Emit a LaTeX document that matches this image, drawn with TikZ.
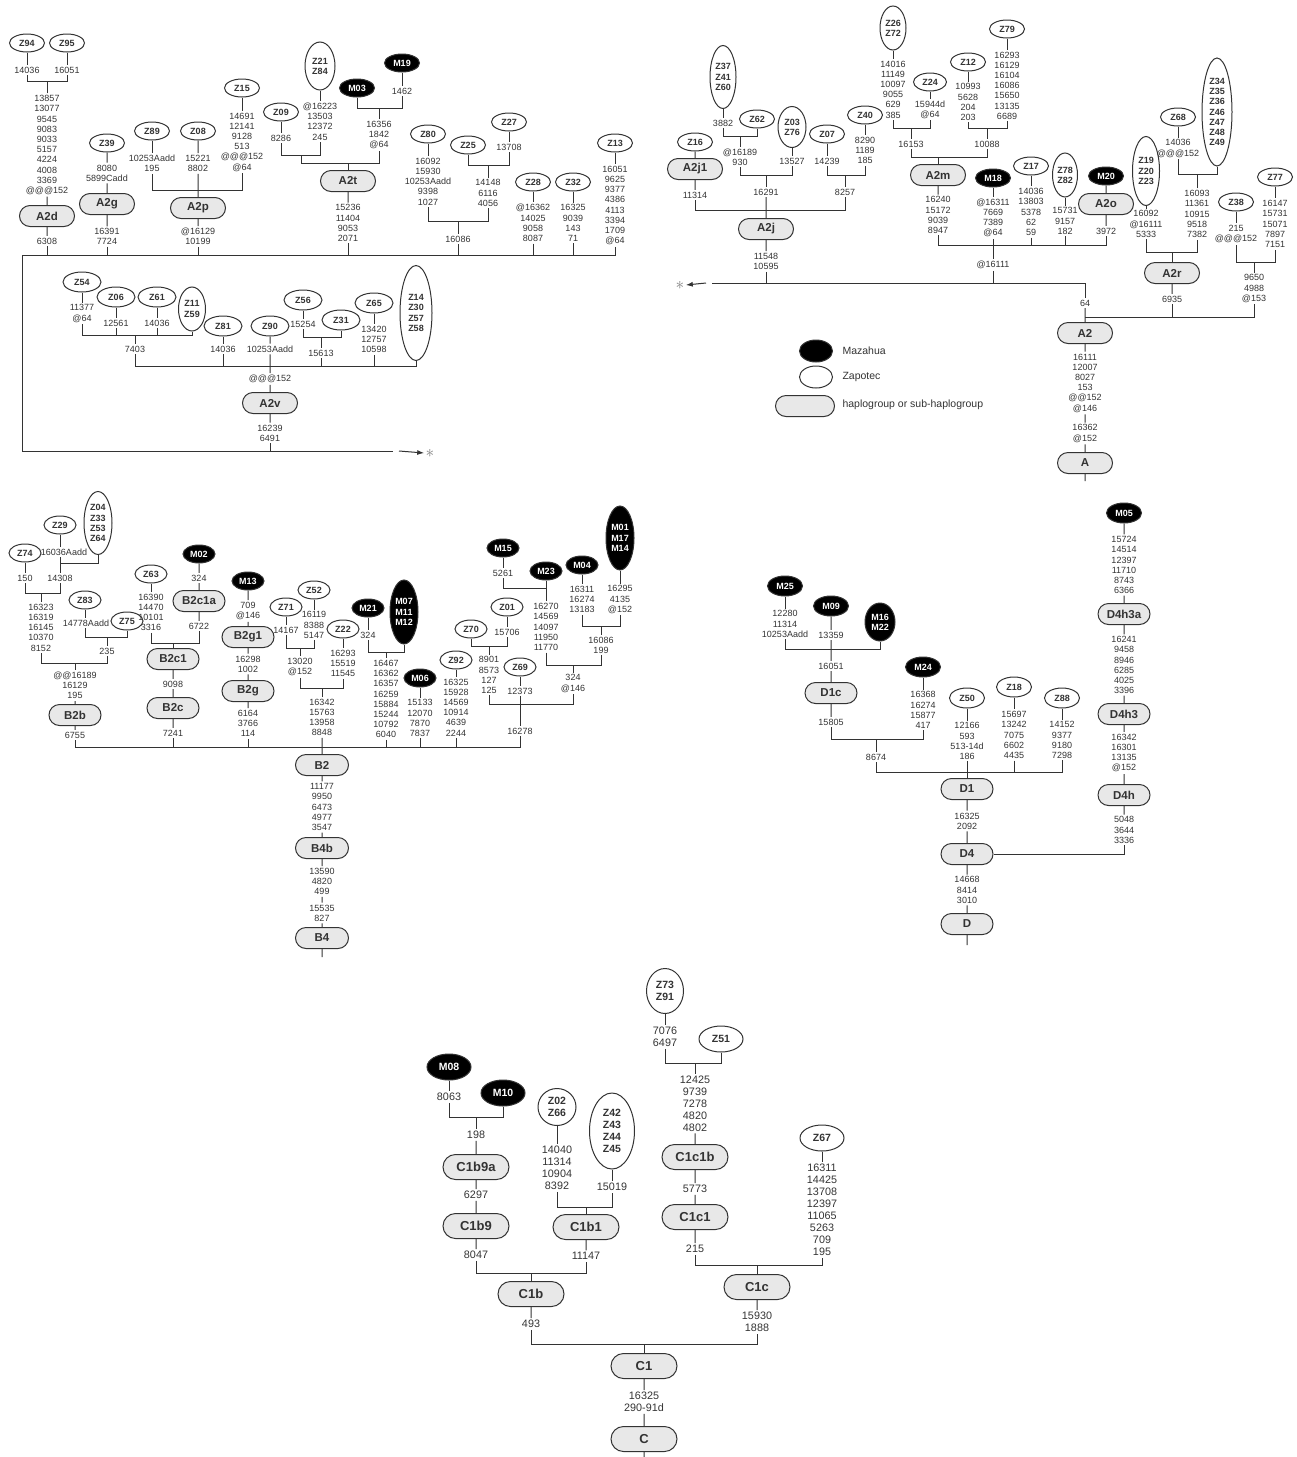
\documentclass[tikz,border=0pt]{standalone}
\usepackage{fontspec}
\setmainfont{Liberation Sans}
\usepackage{tikz}
\usetikzlibrary{shapes.geometric,shapes.misc,arrows.meta}

\begin{document}
\begin{tikzpicture}[x=1pt,y=-1pt,line width=1pt,color=black!80,>={Latex[length=7pt,width=5pt]}]
% ---- styles ----
\tikzstyle{zap}=[ellipse,draw,fill=white,inner sep=0pt,align=center,
  minimum width=35pt,minimum height=18pt,font=\fontsize{9}{10.2}\selectfont\bfseries]
\tikzstyle{maz}=[zap,fill=black,text=white]
\tikzstyle{hap}=[rounded rectangle,draw,fill=gray!18,inner sep=0pt,
  minimum width=55pt,minimum height=21pt,font=\fontsize{11.5}{12}\selectfont\bfseries]
\tikzstyle{mut}=[align=center,inner sep=1.5pt,font=\fontsize{9}{10.2}\selectfont]
\tikzstyle{zapc}=[zap,minimum width=44pt,minimum height=26pt,font=\fontsize{10.5}{12}\selectfont\bfseries]
\tikzstyle{mazc}=[zapc,fill=black,text=white]
\tikzstyle{hapc}=[hap,minimum width=66pt,minimum height=25pt,font=\fontsize{13}{14}\selectfont\bfseries]
\tikzstyle{mutc}=[mut,font=\fontsize{10.8}{12}\selectfont]
\tikzstyle{legtext}=[anchor=west,inner sep=0pt,font=\fontsize{10.5}{12}\selectfont]
\tikzstyle{starmark}=[black!50,inner sep=1pt,font=\fontsize{16}{16}\selectfont]

\useasboundingbox (0,0) rectangle (1297,1457);

% ---- A2, left part ----
\node[zap] (z94) at (27,43) {Z94};
\node[zap] (z95) at (67,43) {Z95};
\node[mut] (l94) at (27,70) {14036};
\node[mut] (l95) at (67,70) {16051};
\node[mut] (l2d) at (47,145) {13857\\13077\\9545\\9083\\9033\\5157\\4224\\4008\\3369\\@@@152};
\node[hap] (a2d) at (47,216) {A2d};
\node[mut] (l6308) at (47,241) {6308};

\node[zap] (z39) at (107,143) {Z39};
\node[mut] (l39) at (107,173) {8080\\5899Cadd};
\node[hap] (a2g) at (107,204) {A2g};
\node[mut] (l2g) at (107,236.5) {16391\\7724};

\node[zap] (z89) at (152,131) {Z89};
\node[mut] (l89) at (152,163.5) {10253Aadd\\195};
\node[zap] (z08) at (198,131) {Z08};
\node[mut] (l08) at (198,163.5) {15221\\8802};
\node[zap] (z15) at (242,88) {Z15};
\node[mut] (l15) at (242,142) {14691\\12141\\9128\\513\\@@@152\\@64};
\node[hap] (a2p) at (198,208) {A2p};
\node[mut] (l2p) at (198,236.5) {@16129\\10199};

\node[zap] (z09) at (281,112) {Z09};
\node[mut] (l09) at (281,138) {8286};
\node[zap,minimum width=30pt,minimum height=48pt] (z21) at (320,66) {Z21\\Z84};
\node[mut] (l21) at (320,121.5) {@16223\\13503\\12372\\245};
\coordinate (j09) at (301,155);
\node[maz] (m03) at (357,88) {M03};
\node[maz] (m19) at (402,63) {M19};
\node[mut] (l19) at (402,91) {1462};
\node[mut] (l03) at (379,135) {16356\\1842\\@64};
\node[hap] (a2t) at (348,181) {A2t};
\node[mut] (l2t) at (348,223) {15236\\11404\\9053\\2071};

\node[zap] (z80) at (428,134) {Z80};
\node[mut] (l80) at (428,181.5) {16092\\15930\\10253Aadd\\9398\\1027};
\node[zap] (z25) at (468,145) {Z25};
\node[zap] (z27) at (509,122) {Z27};
\node[mut] (l27) at (509,147) {13708};
\node[mut] (l25) at (488,193) {14148\\6116\\4056};
\node[mut] (l16086) at (458,239) {16086};
\node[zap] (z28) at (533,182) {Z28};
\node[mut] (l28) at (533,223) {@16362\\14025\\9058\\8087};
\node[zap] (z32) at (573,182) {Z32};
\node[mut] (l32) at (573,223) {16325\\9039\\143\\71};
\node[zap] (z13) at (615,143) {Z13};
\node[mut] (l13) at (615,205.5) {16051\\9625\\9377\\4386\\4113\\3394\\1709\\@64};

\coordinate (lstart) at (22,255);
\coordinate (lcorner) at (22,451);
\coordinate (lend) at (393,451);
\coordinate (larrow) at (399,451);
\node[starmark] (star1) at (430,453) {$\ast$};

\draw (z94) -- (l94);
\draw (z95) -- (l95);
\draw (l94.south) -- (l94.south |- 0,81) -| (l95.south);
\draw (l2d.north) -- (l2d.north |- 0,81);
\draw (l2d) -- (a2d) -- (l6308);
\draw (z39) -- (l39) -- (a2g) -- (l2g);
\draw (z89) -- (l89);
\draw (z15) -- (l15);
\draw (l89.south) -- (l89.south |- 0,190) -| (l15.south);
\draw (z08) -- (l08) -- (a2p) -- (l2p);
\draw (z09) -- (l09);
\draw (z21) -- (l21);
\draw (l09.south) -- (l09.south |- j09) -| (l21.south);
\draw (m19) -- (l19);
\draw (m03.south) -- (m03.south |- 0,108) -| (l19.south);
\draw (l03.north) -- (l03.north |- 0,108);
\draw (j09) -- (j09 |- 0,163) -| (l03.south);
\draw (a2t.north) -- (a2t.north |- 0,163);
\draw (a2t) -- (l2t);
\draw (z80) -- (l80);
\draw (z27) -- (l27);
\draw (z25.south) -- (z25.south |- 0,165) -| (l27.south);
\draw (l25.north) -- (l25.north |- 0,165);
\draw (l80.south) -- (l80.south |- 0,221) -| (l25.south);
\draw (l16086.north) -- (l16086.north |- 0,221);
\draw (z28) -- (l28);
\draw (z32) -- (l32);
\draw (z13) -- (l13);
\draw (l13.south) -- (l13.south |- lstart) -- (lstart) -- (lcorner) -- (lend);
\draw (l6308.south) -- (l6308.south |- lstart);
\draw (l2g.south) -- (l2g.south |- lstart);
\draw (l2p.south) -- (l2p.south |- lstart);
\draw (l2t.south) -- (l2t.south |- lstart);
\draw (l16086.south) -- (l16086.south |- lstart);
\draw (l28.south) -- (l28.south |- lstart);
\draw (l32.south) -- (l32.south |- lstart);
\draw[->] (larrow) -- (star1.west);

% ---- A2v ----
\node[zap,minimum width=38pt,minimum height=20pt] (z54) at (82,282) {Z54};
\node[mut] (l54) at (82,313.5) {11377\\@64};
\node[zap,minimum width=38pt,minimum height=20pt] (z06) at (116,297) {Z06};
\node[mut] (l06) at (116,323) {12561};
\node[zap,minimum width=38pt,minimum height=20pt] (z61) at (157,297) {Z61};
\node[mut] (l61) at (157,323) {14036};
\node[zap,minimum width=27pt,minimum height=44pt] (z11) at (192,309) {Z11\\Z59};
\node[mut] (l7403) at (135,349) {7403};
\node[zap,minimum width=38pt,minimum height=20pt] (z81) at (223,326) {Z81};
\node[mut] (l81) at (223,349) {14036};
\node[zap,minimum width=38pt,minimum height=20pt] (z90) at (270,326) {Z90};
\node[mut] (l90) at (270,349) {10253Aadd};
\node[zap,minimum width=38pt,minimum height=20pt] (z56) at (303,300) {Z56};
\node[mut] (l56) at (303,324) {15254};
\node[zap,minimum width=38pt,minimum height=20pt] (z31) at (341,320) {Z31};
\node[mut] (l15613) at (321,353) {15613};
\node[zap,minimum width=38pt,minimum height=20pt] (z65) at (374,303) {Z65};
\node[mut] (l65) at (374,339.5) {13420\\12757\\10598};
\node[zap,minimum width=32pt,minimum height=95pt] (z14) at (416,313) {Z14\\Z30\\Z57\\Z58};
\node[mut] (l152) at (270,379) {@@@152};
\node[hap] (a2v) at (270,403) {A2v};
\node[mut] (l2v) at (270,433) {16239\\6491};

\draw (z54) -- (l54);
\draw (z06) -- (l06);
\draw (z61) -- (l61);
\draw (l54.south) -- (l54.south |- 0,335) -| (z11.south);
\draw (l06.south) -- (l06.south |- 0,335);
\draw (l61.south) -- (l61.south |- 0,335);
\draw (l7403.north) -- (l7403.north |- 0,335);
\draw (z81) -- (l81);
\draw (z90) -- (l90) -- (l152) -- (a2v) -- (l2v);
\draw (z56) -- (l56);
\draw (l56.south) -- (l56.south |- 0,337) -| (z31.south);
\draw (l15613.north) -- (l15613.north |- 0,337);
\draw (z65) -- (l65);
\draw (l7403.south) -- (l7403.south |- 0,366) -| (z14.south);
\draw (l81.south) -- (l81.south |- 0,366);
\draw (l15613.south) -- (l15613.south |- 0,366);
\draw (l65.south) -- (l65.south |- 0,366);
\draw (l2v.south) -- (l2v.south |- lcorner);

% ---- A2, right part ----
\node[zap,minimum width=26pt,minimum height=63pt] (z37) at (723,77) {Z37\\Z41\\Z60};
\node[mut] (l37) at (723,123) {3882};
\node[zap] (z62) at (757,119) {Z62};
\node[mut] (l62) at (740,157) {@16189\\930};
\node[zap,minimum width=28pt,minimum height=41pt] (z03) at (792,127) {Z03\\Z76};
\node[mut] (l03b) at (792,161) {13527};
\node[mut] (l16291) at (766,192) {16291};
\node[zap] (z07) at (827,134) {Z07};
\node[mut] (l07) at (827,161) {14239};
\node[zap] (z40) at (865,115) {Z40};
\node[mut] (l40) at (865,150.5) {8290\\1189\\185};
\node[mut] (l8257) at (845,192) {8257};
\node[zap] (z16) at (695,142) {Z16};
\node[hap] (a2j1) at (695,169) {A2j1};
\node[mut] (l11314) at (695,195) {11314};
\node[hap] (a2j) at (766,229) {A2j};
\node[mut] (l2j) at (766,261.5) {11548\\10595};

\node[zap,minimum width=26pt,minimum height=44pt] (z26) at (893,28) {Z26\\Z72};
\node[mut] (l26) at (893,89.5) {14016\\11149\\10097\\9055\\629\\385};
\node[zap,minimum width=33pt] (z24) at (930,82) {Z24};
\node[mut] (l24) at (930,109.5) {15944d\\@64};
\node[mut] (l16153) at (911,144) {16153};
\node[zap] (z12) at (968,62) {Z12};
\node[mut] (l12) at (968,102) {10993\\5628\\204\\203};
\node[zap] (z79) at (1007,29) {Z79};
\node[mut] (l79) at (1007,85.5) {16293\\16129\\16104\\16086\\15650\\13135\\6689};
\node[mut] (l10088) at (987,144) {10088};
\node[hap] (a2m) at (938,175) {A2m};
\node[mut] (l2m) at (938,215) {16240\\15172\\9039\\8947};
\node[maz] (m18) at (993,178) {M18};
\node[mut] (l18) at (993,218) {@16311\\7669\\7389\\@64};
\node[zap] (z17) at (1031,166) {Z17};
\node[mut] (l17) at (1031,212) {14036\\13803\\5378\\62\\59};
\node[zap,minimum width=25pt,minimum height=44pt] (z78) at (1065,175) {Z78\\Z82};
\node[mut] (l78) at (1065,221) {15731\\9157\\182};
\node[maz] (m20) at (1106,176) {M20};
\node[hap] (a2o) at (1106,204) {A2o};
\node[mut] (l2o) at (1106,231) {3972};
\node[mut] (l16111) at (993,265) {@16111};

\node[zap,minimum width=27pt,minimum height=69pt] (z19) at (1146,171) {Z19\\Z20\\Z23};
\node[mut] (l19b) at (1146,224) {16092\\@16111\\5333};
\node[zap] (z68) at (1178,117) {Z68};
\node[mut] (l68) at (1178,148.5) {14036\\@@@152};
\node[zap,minimum width=30pt,minimum height=108pt] (z34) at (1217,112) {Z34\\Z35\\Z36\\Z46\\Z47\\Z48\\Z49};
\node[mut] (l34) at (1197,214) {16093\\11361\\10915\\9518\\7382};
\node[hap] (a2r) at (1172,273) {A2r};
\node[mut] (l6935) at (1172,299) {6935};
\node[zap] (z38) at (1236,202) {Z38};
\node[mut] (l38) at (1236,234) {215\\@@@152};
\node[zap] (z77) at (1275,177) {Z77};
\node[mut] (l77) at (1275,224) {16147\\15731\\15071\\7897\\7151};
\node[mut] (l9650) at (1254,288.5) {9650\\4988\\@153};
\node[mut] (l64) at (1085,303) {64};
\node[hap] (a2) at (1085,333) {A2};
\node[mut] (la2) at (1085,383) {16111\\12007\\8027\\153\\@@152\\@146};
\node[mut] (la) at (1085,433.5) {16362\\@152};
\node[hap] (a) at (1085,463) {A};
\coordinate (aroot) at (1085,481);

\coordinate (rstart) at (712,283);
\coordinate (rarrow) at (706,283);
\node[starmark] (star2) at (680,285) {$\ast$};

\draw (z37) -- (l37);
\draw (l37.south) -- (l37.south |- 0,136) -| (z62.south);
\draw (l62.north) -- (l62.north |- 0,136);
\draw (z03) -- (l03b);
\draw (l62.south) -- (l62.south |- 0,175) -| (l03b.south);
\draw (l16291.north) -- (l16291.north |- 0,175);
\draw (z07) -- (l07);
\draw (z40) -- (l40);
\draw (l07.south) -- (l07.south |- 0,175) -| (l40.south);
\draw (l8257.north) -- (l8257.north |- 0,175);
\draw (z16) -- (a2j1) -- (l11314);
\draw (l11314.south) -- (l11314.south |- 0,210) -| (l8257.south);
\draw (l16291) -- (a2j) -- (l2j);
\draw (z26) -- (l26);
\draw (z24) -- (l24);
\draw (l26.south) -- (l26.south |- 0,128) -| (l24.south);
\draw (l16153.north) -- (l16153.north |- 0,128);
\draw (z12) -- (l12);
\draw (z79) -- (l79);
\draw (l12.south) -- (l12.south |- 0,128) -| (l79.south);
\draw (l10088.north) -- (l10088.north |- 0,128);
\draw (l16153.south) -- (l16153.south |- 0,157) -| (l10088.south);
\draw (a2m.north) -- (a2m.north |- 0,157);
\draw (a2m) -- (l2m);
\draw (m18) -- (l18) -- (l16111);
\draw (z17) -- (l17);
\draw (z78) -- (l78);
\draw (m20) -- (a2o) -- (l2o);
\draw (l2m.south) -- (l2m.south |- 0,245) -| (l2o.south);
\draw (l17.south) -- (l17.south |- 0,245);
\draw (l78.south) -- (l78.south |- 0,245);
\draw (z19) -- (l19b);
\draw (z68) -- (l68);
\draw (l68.south) -- (l68.south |- 0,174) -| (z34.south);
\draw (l34.north) -- (l34.north |- 0,174);
\draw (l19b.south) -- (l19b.south |- 0,252) -| (l34.south);
\draw (a2r.north) -- (a2r.north |- 0,252);
\draw (a2r) -- (l6935);
\draw (z38) -- (l38);
\draw (z77) -- (l77);
\draw (l38.south) -- (l38.south |- 0,262) -| (l77.south);
\draw (l9650.north) -- (l9650.north |- 0,262);
\draw (a2.north |- 0,317) -| (l9650.south);
\draw (l6935.south) -- (l6935.south |- 0,317);
\draw (a2) -- (l64);
\draw (l64.north) -- (l64.north |- rstart) -- (rstart);
\draw (l2j.south) -- (l2j.south |- rstart);
\draw (l16111.south) -- (l16111.south |- rstart);
\draw[->] (rarrow) -- (star2.east);
\draw (a2) -- (la2) -- (la) -- (a) -- (aroot);

% ---- legend ----
\node[maz,minimum width=33pt,minimum height=22pt] (legm) at (816,351) {};
\node[legtext] (tm) at (842,351) {Mazahua};
\node[zap,minimum width=33pt,minimum height=22pt] (legz) at (816,377) {};
\node[legtext] (tz) at (842,377) {Zapotec};
\node[hap,minimum width=59pt] (legh) at (805,406) {};
\node[legtext] (th) at (842,405) {haplogroup or sub-haplogroup};

% ---- B ----
\node[zap,minimum width=32pt] (z74) at (25,553) {Z74};
\node[mut] (l74) at (25,578) {150};
\node[zap,minimum width=32pt] (z29) at (60,525) {Z29};
\node[mut] (l29) at (64,552) {16036Aadd};
\node[zap,minimum width=28pt,minimum height=63pt] (z04) at (98,523) {Z04\\Z33\\Z53\\Z64};
\node[mut] (l14308) at (60,578) {14308};
\node[mut] (l16323) at (41,627.5) {16323\\16319\\16145\\10370\\8152};
\node[zap,minimum width=32pt] (z83) at (85,600) {Z83};
\node[mut] (l83) at (86,623) {14778Aadd};
\node[zap,minimum width=32pt] (z75) at (127,621) {Z75};
\node[mut] (l235) at (107,651) {235};
\node[mut] (l2b) at (75,685.5) {@@16189\\16129\\195};
\node[hap,minimum width=52pt] (b2b) at (75,715) {B2b};
\node[mut] (l6755) at (75,735) {6755};

\node[zap,minimum width=32pt] (z63) at (151,574) {Z63};
\node[mut] (l63) at (151,612.5) {16390\\14470\\10101\\3316};
\node[maz,minimum width=32pt] (m02) at (199,554) {M02};
\node[mut] (l324a) at (199,578) {324};
\node[hap,minimum width=52pt] (b2c1a) at (199,601) {B2c1a};
\node[mut] (l6722) at (199,626) {6722};
\node[hap,minimum width=52pt] (b2c1) at (173,659) {B2c1};
\node[mut] (l9098) at (173,684) {9098};
\node[hap,minimum width=52pt] (b2c) at (173,708) {B2c};
\node[mut] (l7241) at (173,733) {7241};

\node[maz,minimum width=32pt] (m13) at (248,581) {M13};
\node[mut] (l13m) at (248,611) {709\\@146};
\node[hap,minimum width=52pt] (b2g1) at (248,637) {B2g1};
\node[mut] (l2g1) at (248,664) {16298\\1002};
\node[hap,minimum width=52pt] (b2g) at (248,691) {B2g};
\node[mut] (l2gb) at (248,723.5) {6164\\3766\\114};

\node[zap,minimum width=32pt] (z71) at (286,607) {Z71};
\node[mut] (l71) at (286,630) {14167};
\node[zap,minimum width=32pt] (z52) at (314,590) {Z52};
\node[mut] (l52) at (314,625) {16119\\8388\\5147};
\node[mut] (l13020) at (300,667) {13020\\@152};
\node[zap,minimum width=32pt] (z22) at (343,629) {Z22};
\node[mut] (l22) at (343,663.5) {16293\\15519\\11545};
\node[mut] (l16342) at (322,717.5) {16342\\15763\\13958\\8848};

\node[maz,minimum width=32pt] (m21) at (368,608) {M21};
\node[mut] (l324b) at (368,635) {324};
\node[maz,minimum width=28pt,minimum height=64pt] (m07) at (404,612) {M07\\M11\\M12};
\node[mut] (l16467) at (386,699) {16467\\16362\\16357\\16259\\15884\\15244\\10792\\6040};
\node[maz,minimum width=32pt] (m06) at (420,678) {M06};
\node[mut] (l15133) at (420,718) {15133\\12070\\7870\\7837};
\node[zap,minimum width=32pt] (z92) at (456,660) {Z92};
\node[mut] (l92) at (456,707.5) {16325\\15928\\14569\\10914\\4639\\2244};

\node[zap,minimum width=32pt] (z70) at (471,629) {Z70};
\node[zap,minimum width=32pt] (z01) at (507,607) {Z01};
\node[mut] (l01) at (507,632) {15706};
\node[mut] (l8901) at (489,675) {8901\\8573\\127\\125};
\node[zap,minimum width=32pt] (z69) at (520,667) {Z69};
\node[mut] (l69) at (520,691) {12373};
\node[mut] (l16278) at (520,731) {16278};
\node[maz,minimum width=32pt] (m15) at (503,548) {M15};
\node[mut] (l5261) at (503,573) {5261};
\node[maz,minimum width=32pt] (m23) at (546,571) {M23};
\node[mut] (l16270) at (546,627) {16270\\14569\\14097\\11950\\11770};
\node[maz,minimum width=32pt] (m04) at (582,565) {M04};
\node[mut] (l04) at (582,599.5) {16311\\16274\\13183};
\node[maz,minimum width=28pt,minimum height=64pt] (m01) at (620,538) {M01\\M17\\M14};
\node[mut] (l01m) at (620,599.5) {16295\\4135\\@152};
\node[mut] (l16086b) at (601,645) {16086\\199};
\node[mut] (l324c) at (573,683.5) {324\\@146};

\node[hap,minimum width=53pt] (b2) at (322,765) {B2};
\node[mut] (lb2) at (322,807) {11177\\9950\\6473\\4977\\3547};
\node[hap,minimum width=53pt] (b4b) at (322,848) {B4b};
\node[mut] (lb4b) at (322,881.5) {13590\\4820\\499};
\node[mut] (l15535) at (322,913) {15535\\827};
\node[hap,minimum width=53pt] (b4) at (322,938) {B4};
\coordinate (b4root) at (322,957);

\draw (z74) -- (l74);
\draw (z29.south) -- (z29.south |- l29.north);
\draw (z29.south |- l29.south) -- (z29.south |- 0,563) -| (z04.south);
\draw (l14308.north) -- (l14308.north |- 0,563);
\draw (l74.south) -- (l74.south |- 0,593) -| (l14308.south);
\draw (l16323.north) -- (l16323.north |- 0,593);
\draw (z83.south) -- (z83.south |- l83.north);
\draw (z83.south |- l83.south) -- (z83.south |- 0,637) -| (z75.south);
\draw (l235.north) -- (l235.north |- 0,637);
\draw (l16323.south) -- (l16323.south |- 0,663) -| (l235.south);
\draw (l2b.north) -- (l2b.north |- 0,663);
\draw (l2b) -- (b2b) -- (l6755);
\draw (z63) -- (l63);
\draw (m02) -- (l324a) -- (b2c1a) -- (l6722);
\draw (l63.south) -- (l63.south |- 0,643) -| (l6722.south);
\draw (b2c1.north) -- (b2c1.north |- 0,643);
\draw (b2c1) -- (l9098) -- (b2c) -- (l7241);
\draw (m13) -- (l13m) -- (b2g1) -- (l2g1) -- (b2g) -- (l2gb);
\draw (z71) -- (l71);
\draw (z52) -- (l52);
\draw (l71.south) -- (l71.south |- 0,648) -| (l52.south);
\draw (l13020.north) -- (l13020.north |- 0,648);
\draw (z22) -- (l22);
\draw (l13020.south) -- (l13020.south |- 0,688) -| (l22.south);
\draw (l16342.north) -- (l16342.north |- 0,688);
\draw (l16342) -- (b2);
\draw (m21) -- (l324b);
\draw (l324b.south) -- (l324b.south |- 0,652) -| (m07.south);
\draw (l16467.north) -- (l16467.north |- 0,652);
\draw (m06) -- (l15133);
\draw (z92) -- (l92);
\draw (z01) -- (l01);
\draw (z70.south) -- (z70.south |- 0,646) -| (l01.south);
\draw (l8901.north) -- (l8901.north |- 0,646);
\draw (m15) -- (l5261);
\draw (l5261.south) -- (l5261.south |- 0,588) -| (m23.south);
\draw (m23) -- (l16270);
\draw (m04) -- (l04);
\draw (m01) -- (l01m);
\draw (l04.south) -- (l04.south |- 0,626) -| (l01m.south);
\draw (l16086b.north) -- (l16086b.north |- 0,626);
\draw (l16270.south) -- (l16270.south |- 0,665) -| (l16086b.south);
\draw (l324c.north) -- (l324c.north |- 0,665);
\draw (l8901.south) -- (l8901.south |- 0,704) -| (l324c.south);
\draw (z69) -- (l69) -- (l16278);
\draw (l6755.south) -- (l6755.south |- 0,747) -| (l16278.south);
\draw (l7241.south) -- (l7241.south |- 0,747);
\draw (l2gb.south) -- (l2gb.south |- 0,747);
\draw (l16467.south) -- (l16467.south |- 0,747);
\draw (l15133.south) -- (l15133.south |- 0,747);
\draw (l92.south) -- (l92.south |- 0,747);
\draw (b2) -- (lb2) -- (b4b) -- (lb4b) -- (l15535) -- (b4) -- (b4root);

% ---- D ----
\node[maz,minimum height=20pt] (m25) at (785,586) {M25};
\node[mut] (l25m) at (785,624) {12280\\11314\\10253Aadd};
\node[maz,minimum height=20pt] (m09) at (831,606) {M09};
\node[mut] (l13359) at (831,635) {13359};
\node[maz,minimum width=30pt,minimum height=38pt] (m16) at (880,622) {M16\\M22};
\node[mut] (l16051d) at (831,666) {16051};
\node[hap,minimum width=52pt] (d1c) at (831,693) {D1c};
\node[mut] (l15805) at (831,722) {15805};
\node[maz,minimum height=20pt] (m24) at (923,667) {M24};
\node[mut] (l24m) at (923,710) {16368\\16274\\15877\\417};
\node[mut] (l8674) at (876,757) {8674};
\node[zap,minimum height=20pt] (z50) at (967,698) {Z50};
\node[mut] (l50) at (967,741) {12166\\593\\513-14d\\186};
\node[zap,minimum height=20pt] (z18) at (1014,687) {Z18};
\node[mut] (l18z) at (1014,735) {15697\\13242\\7075\\6602\\4435};
\node[zap,minimum height=20pt] (z88) at (1062,698) {Z88};
\node[mut] (l88) at (1062,740) {14152\\9377\\9180\\7298};
\node[hap,minimum width=52pt] (d1) at (967,789) {D1};
\node[mut] (ld1) at (967,821) {16325\\2092};
\node[hap,minimum width=52pt] (d4) at (967,854) {D4};
\node[mut] (ld4) at (967,890) {14668\\8414\\3010};
\node[hap,minimum width=52pt] (d) at (967,924) {D};
\coordinate (droot) at (967,945);

\node[maz,minimum height=20pt] (m05) at (1124,513) {M05};
\node[mut] (l05) at (1124,565) {15724\\14514\\12397\\11710\\8743\\6366};
\node[hap,minimum width=52pt] (d4h3a) at (1124,614) {D4h3a};
\node[mut] (l16241) at (1124,665) {16241\\9458\\8946\\6285\\4025\\3396};
\node[hap,minimum width=52pt] (d4h3) at (1124,714) {D4h3};
\node[mut] (l16342d) at (1124,753) {16342\\16301\\13135\\@152};
\node[hap,minimum width=52pt] (d4h) at (1124,795) {D4h};
\node[mut] (l5048) at (1124,830) {5048\\3644\\3336};

\draw (m25) -- (l25m);
\draw (l25m.south) -- (l25m.south |- 0,649) -| (m16.south);
\draw (m09) -- (l13359) -- (l16051d) -- (d1c) -- (l15805);
\draw (m24) -- (l24m);
\draw (l15805.south) -- (l15805.south |- 0,739) -| (l24m.south);
\draw (l8674.north) -- (l8674.north |- 0,739);
\draw (z50) -- (l50) -- (d1);
\draw (z18) -- (l18z);
\draw (z88) -- (l88);
\draw (l8674.south) -- (l8674.south |- 0,772) -| (l88.south);
\draw (l18z.south) -- (l18z.south |- 0,772);
\draw (d1) -- (ld1) -- (d4) -- (ld4) -- (d) -- (droot);
\draw (m05) -- (l05) -- (d4h3a) -- (l16241) -- (d4h3) -- (l16342d) -- (d4h) -- (l5048);
\draw (d4.east) -| (l5048.south);

% ---- C ----
\node[mazc] (m08) at (449,1067) {M08};
\node[mutc] (l8063) at (449,1097) {8063};
\node[mazc] (m10) at (503,1093) {M10};
\node[mutc] (l198) at (476,1135) {198};
\node[hapc] (c1b9a) at (476,1167) {C1b9a};
\node[mutc] (l6297) at (476,1195) {6297};
\node[hapc] (c1b9) at (476,1226) {C1b9};
\node[mutc] (l8047) at (476,1255) {8047};
\node[zapc,minimum width=38pt,minimum height=37pt] (z02) at (557,1107) {Z02\\Z66};
\node[mutc] (l14040) at (557,1168) {14040\\11314\\10904\\8392};
\node[zapc,minimum width=45pt,minimum height=76pt] (z42) at (612,1131) {Z42\\Z43\\Z44\\Z45};
\node[mutc] (l15019) at (612,1187) {15019};
\node[hapc] (c1b1) at (586,1227) {C1b1};
\node[mutc] (l11147) at (586,1256) {11147};
\node[hapc] (c1b) at (531,1294) {C1b};
\node[mutc] (l493) at (531,1324) {493};
\node[hapc] (c1) at (644,1366) {C1};
\node[mutc] (lc1) at (644,1402) {16325\\290-91d};
\node[hapc] (c) at (644,1439) {C};
\coordinate (croot) at (644,1457);

\node[zapc,minimum width=37pt,minimum height=45pt] (z73) at (665,991) {Z73\\Z91};
\node[mutc] (l7076) at (665,1037) {7076\\6497};
\node[zapc] (z51) at (721,1039) {Z51};
\node[mutc] (l12425) at (695,1103.5) {12425\\9739\\7278\\4820\\4802};
\node[hapc] (c1c1b) at (695,1157) {C1c1b};
\node[mutc] (l5773) at (695,1189) {5773};
\node[hapc] (c1c1) at (695,1217) {C1c1};
\node[mutc] (l215) at (695,1249) {215};
\node[zapc] (z67) at (822,1138) {Z67};
\node[mutc] (l67) at (822,1210) {16311\\14425\\13708\\12397\\11065\\5263\\709\\195};
\node[hapc] (c1c) at (757,1287) {C1c};
\node[mutc] (l15930) at (757,1322) {15930\\1888};

\draw (m08) -- (l8063);
\draw (l8063.south) -- (l8063.south |- 0,1117) -| (m10.south);
\draw (l198.north) -- (l198.north |- 0,1117);
\draw (l198) -- (c1b9a) -- (l6297) -- (c1b9) -- (l8047);
\draw (z02) -- (l14040);
\draw (z42) -- (l15019);
\draw (l14040.south) -- (l14040.south |- 0,1207) -| (l15019.south);
\draw (c1b1.north) -- (c1b1.north |- 0,1207);
\draw (c1b1) -- (l11147);
\draw (l8047.south) -- (l8047.south |- 0,1273) -| (l11147.south);
\draw (c1b.north) -- (c1b.north |- 0,1273);
\draw (c1b) -- (l493);
\draw (l493.south) -- (l493.south |- 0,1344) -| (l15930.south);
\draw (c1.north) -- (c1.north |- 0,1344);
\draw (c1) -- (lc1) -- (c) -- (croot);
\draw (z73) -- (l7076);
\draw (l7076.south) -- (l7076.south |- 0,1063) -| (z51.south);
\draw (l12425.north) -- (l12425.north |- 0,1063);
\draw (l12425) -- (c1c1b) -- (l5773) -- (c1c1) -- (l215);
\draw (z67) -- (l67);
\draw (l215.south) -- (l215.south |- 0,1265) -| (l67.south);
\draw (c1c.north) -- (c1c.north |- 0,1265);
\draw (c1c) -- (l15930);

\end{tikzpicture}
\end{document}
